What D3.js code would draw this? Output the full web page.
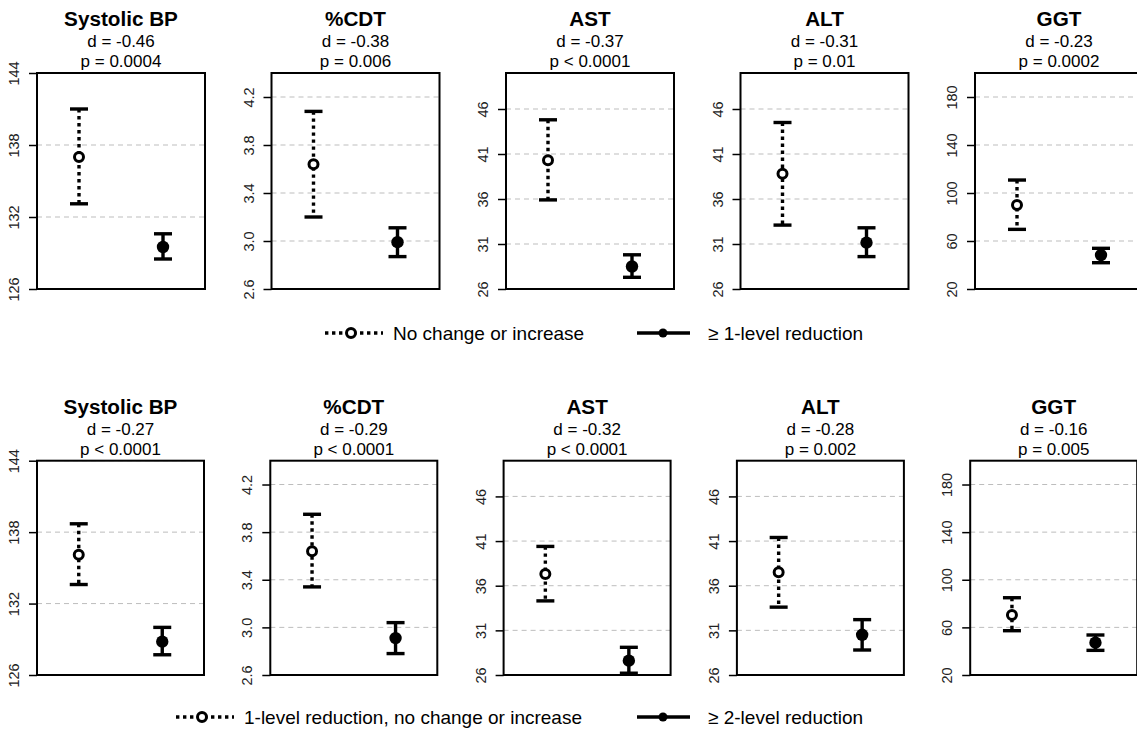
<!DOCTYPE html>
<html>
<head>
<meta charset="utf-8">
<script src="https://cdn.jsdelivr.net/npm/d3@7"></script>
<style>
  body { margin: 0; background: #fff; }
  svg { font-family: "Liberation Sans", Arial, sans-serif; display: block; }
</style>
</head>
<body>
<div id="chart-area"></div>
<script>
// chart data
var measures = ["Systolic BP", "%CDT", "AST", "ALT", "GGT"];
var yLimits = [[126, 144], [2.6, 4.4], [26, 50], [26, 50], [20, 200]];
var tickValues = [
  [126, 132, 138, 144],
  [2.6, 3.0, 3.4, 3.8, 4.2],
  [26, 31, 36, 41, 46],
  [26, 31, 36, 41, 46],
  [20, 60, 100, 140, 180]
];
var tickLabels = [
  ["126", "132", "138", "144"],
  ["2.6", "3.0", "3.4", "3.8", "4.2"],
  ["26", "31", "36", "41", "46"],
  ["26", "31", "36", "41", "46"],
  ["20", "60", "100", "140", "180"]
];

// top row
var dTop = ["-0.46", "-0.38", "-0.37", "-0.31", "-0.23"];
var pTop = ["= 0.0004", "= 0.006", "< 0.0001", "= 0.01", "= 0.0002"];
var meanTopA = [137.0, 3.64, 40.3, 38.8, 90];
var lowTopA = [133.1, 3.20, 35.9, 33.1, 69.7];
var highTopA = [141.0, 4.08, 44.8, 44.5, 110.8];
var meanTopB = [129.5, 2.99, 28.5, 31.15, 48.3];
var lowTopB = [128.5, 2.87, 27.3, 29.6, 41.9];
var highTopB = [130.6, 3.11, 29.8, 32.8, 53.9];
var legendTop = ["No change or increase", "\u2265 1-level reduction"];

// bottom row
var dBot = ["-0.27", "-0.29", "-0.32", "-0.28", "-0.16"];
var pBot = ["< 0.0001", "< 0.0001", "< 0.0001", "= 0.002", "= 0.005"];
var meanBotA = [136.1, 3.64, 37.3, 37.5, 70.4];
var lowBotA = [133.6, 3.34, 34.3, 33.6, 57.2];
var highBotA = [138.7, 3.95, 40.4, 41.4, 84.9];
var meanBotB = [128.8, 2.91, 27.6, 30.5, 47.1];
var lowBotB = [127.7, 2.78, 26.2, 28.8, 40.7];
var highBotB = [130.0, 3.04, 29.1, 32.2, 53.6];
var legendBot = ["1-level reduction, no change or increase", "\u2265 2-level reduction"];

var width = 1137, height = 732;

var svg = d3.select("#chart-area").append("svg")
  .attr("width", width).attr("height", height);

// draw one row of five panels
var drawRow = function(row) {
  measures.forEach(function(name, i) {
    var left = row.left + i * row.step;
    var w = row.w, h = row.h;
    var g = svg.append("g").attr("transform", "translate(" + left + "," + row.top + ")");

    var x = d3.scaleLinear().domain([0.5, 2.5]).range([0, w]);
    var y = d3.scaleLinear().domain(yLimits[i]).range([h, 0]);

    // grid lines
    g.selectAll(".grid").data(tickValues[i]).enter().append("line")
      .attr("x1", 0).attr("x2", w)
      .attr("y1", function(d) { return y(d); })
      .attr("y2", function(d) { return y(d); })
      .attr("stroke", "#bdbdbd").attr("stroke-width", 1)
      .attr("stroke-dasharray", "5,4");

    // y axis
    var yAxis = d3.axisLeft(y).tickValues(tickValues[i]).tickSize(8)
      .tickFormat(function(d, j) { return tickLabels[i][j]; });
    var ax = g.append("g").call(yAxis);
    ax.select(".domain").remove();
    ax.selectAll(".tick line").attr("stroke", "#000").attr("stroke-width", 1.5);
    ax.selectAll(".tick text")
      .attr("x", null).attr("dy", null)
      .attr("transform", "translate(-18,0) rotate(-90)")
      .attr("text-anchor", "middle")
      .attr("dominant-baseline", "auto")
      .attr("font-size", 14.5)
      .attr("font-family", "'Liberation Sans', Arial, sans-serif")
      .attr("fill", "#222");

    // error bars
    var groups = [
      {pos: 1, mean: row.meanA[i], low: row.lowA[i], high: row.highA[i], open: true},
      {pos: 2, mean: row.meanB[i], low: row.lowB[i], high: row.highB[i], open: false}
    ];
    groups.forEach(function(d) {
      var cx = x(d.pos);
      g.append("line")
        .attr("x1", cx).attr("x2", cx)
        .attr("y1", y(d.high)).attr("y2", y(d.low))
        .attr("stroke", "#000").attr("stroke-width", 3.4)
        .attr("stroke-dasharray", d.open ? "3.4,3.6" : null);
      [d.low, d.high].forEach(function(v) {
        g.append("line")
          .attr("x1", cx - 9).attr("x2", cx + 9)
          .attr("y1", y(v)).attr("y2", y(v))
          .attr("stroke", "#000").attr("stroke-width", 3.4);
      });
      if (d.open) {
        g.append("circle").attr("cx", cx).attr("cy", y(d.mean)).attr("r", 4.5)
          .attr("fill", "#fff").attr("stroke", "#000").attr("stroke-width", 3);
      } else {
        g.append("circle").attr("cx", cx).attr("cy", y(d.mean)).attr("r", 6.2)
          .attr("fill", "#000");
      }
    });

    // box
    g.append("rect").attr("x", 0).attr("y", 0).attr("width", w).attr("height", h)
      .attr("fill", "none").attr("stroke", "#000").attr("stroke-width", 2);

    // titles
    g.append("text").attr("x", w / 2).attr("y", -47)
      .attr("text-anchor", "middle").attr("font-size", 20.7).attr("font-weight", "bold")
      .text(name);
    g.append("text").attr("x", w / 2).attr("y", -26)
      .attr("text-anchor", "middle").attr("font-size", 17)
      .text("d = " + row.d[i]);
    g.append("text").attr("x", w / 2).attr("y", -6)
      .attr("text-anchor", "middle").attr("font-size", 17)
      .text("p " + row.p[i]);
  });

  // legend
  var lg = svg.append("g").attr("transform", "translate(0," + row.legendY + ")");
  var lx = row.legendX;
  lg.append("line").attr("x1", lx[0]).attr("x2", lx[0] + 58).attr("y1", 0).attr("y2", 0)
    .attr("stroke", "#000").attr("stroke-width", 3.4).attr("stroke-dasharray", "3.4,3.6");
  lg.append("circle").attr("cx", lx[0] + 26).attr("cy", 0).attr("r", 4.5)
    .attr("fill", "#fff").attr("stroke", "#000").attr("stroke-width", 3);
  lg.append("text").attr("x", lx[0] + 68).attr("y", 6.5).attr("font-size", 19)
    .text(row.legend[0]);
  lg.append("line").attr("x1", lx[1]).attr("x2", lx[1] + 53).attr("y1", 0).attr("y2", 0)
    .attr("stroke", "#000").attr("stroke-width", 3.4);
  lg.append("circle").attr("cx", lx[1] + 26).attr("cy", 0).attr("r", 4.5)
    .attr("fill", "#000");
  lg.append("text").attr("x", lx[1] + 71).attr("y", 6.5).attr("font-size", 19)
    .text(row.legend[1]);
};

drawRow({
  left: 37, step: 234.5, w: 168, top: 73, h: 216,
  d: dTop, p: pTop,
  meanA: meanTopA, lowA: lowTopA, highA: highTopA,
  meanB: meanTopB, lowB: lowTopB, highB: highTopB,
  legend: legendTop, legendY: 333, legendX: [325, 637]
});

drawRow({
  left: 37, step: 233.3, w: 167, top: 460.7, h: 214.3,
  d: dBot, p: pBot,
  meanA: meanBotA, lowA: lowBotA, highA: highBotA,
  meanB: meanBotB, lowB: lowBotB, highB: highBotB,
  legend: legendBot, legendY: 717, legendX: [176, 637]
});
</script>
</body>
</html>
